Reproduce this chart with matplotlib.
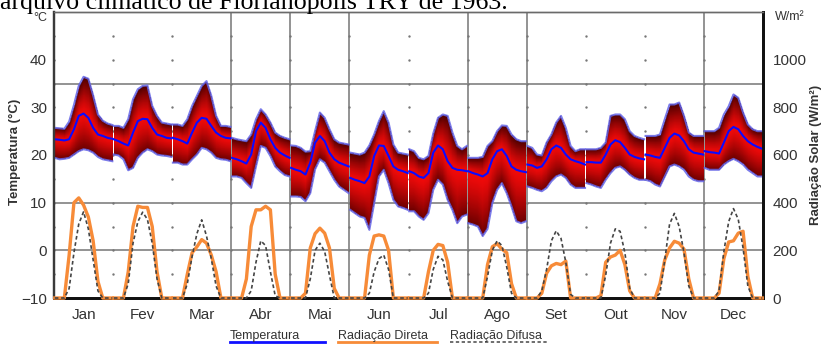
import numpy as np
import matplotlib
matplotlib.use("Agg")
import matplotlib.pyplot as plt
from matplotlib.lines import Line2D

plt.rcParams['font.family'] = ['Liberation Sans', 'DejaVu Sans']

months = ['Jan', 'Fev', 'Mar', 'Abr', 'Mai', 'Jun', 'Jul', 'Ago', 'Set', 'Out', 'Nov', 'Dec']
hours = [0, 2, 4, 6, 8, 10, 12, 14, 16, 18, 20, 22, 24]

t_max = [
    [25.7, 25.6, 25.5, 27.0, 30.5, 34.5, 36.4, 36.0, 32.5, 28.5, 27.2, 26.6, 26.3],
    [26.1, 26.1, 25.7, 27.5, 31.7, 33.8, 34.5, 34.6, 30.3, 28.2, 26.8, 26.6, 26.4],
    [26.4, 26.4, 26.1, 27.5, 30.3, 32.4, 34.5, 35.5, 32.4, 28.2, 26.1, 26.1, 25.9],
    [23.6, 23.3, 23.1, 22.9, 24.3, 27.5, 29.6, 28.5, 26.8, 24.7, 24.0, 23.6, 23.3],
    [22.0, 21.9, 21.5, 20.7, 20.8, 25.0, 28.9, 27.8, 25.4, 23.3, 22.6, 22.4, 22.2],
    [20.5, 20.3, 20.1, 20.5, 22.0, 24.3, 27.1, 29.2, 26.8, 22.2, 20.5, 20.3, 20.1],
    [21.2, 20.8, 19.4, 19.1, 19.8, 24.5, 27.8, 28.5, 28.2, 24.7, 21.9, 21.2, 21.9],
    [19.4, 19.4, 19.4, 19.6, 21.9, 22.9, 25.0, 26.2, 26.1, 24.3, 23.3, 22.9, 22.9],
    [21.9, 21.5, 20.1, 19.9, 22.6, 24.3, 26.8, 28.2, 25.7, 21.9, 20.8, 21.2, 21.2],
    [21.2, 21.2, 21.2, 21.5, 22.6, 28.2, 28.5, 28.5, 27.5, 25.0, 24.0, 23.6, 23.3],
    [24.0, 24.0, 24.0, 24.3, 27.5, 30.6, 30.6, 31.0, 28.2, 24.7, 24.0, 24.0, 24.0],
    [25.0, 25.0, 25.0, 25.7, 28.5, 30.2, 32.7, 32.0, 28.9, 26.4, 25.4, 25.0, 25.0],
]

t_min = [
    [19.4, 19.1, 19.2, 19.4, 20.1, 20.8, 21.2, 21.0, 20.5, 19.6, 19.1, 18.9, 18.7],
    [20.1, 19.9, 19.1, 16.8, 17.3, 19.4, 20.5, 21.2, 20.8, 20.1, 19.9, 19.8, 19.6],
    [18.4, 18.4, 18.0, 18.0, 19.1, 20.1, 21.5, 21.2, 20.5, 19.4, 19.1, 19.0, 18.7],
    [15.5, 15.5, 15.2, 14.1, 13.1, 17.6, 21.9, 21.5, 19.8, 17.6, 16.6, 15.8, 15.5],
    [11.3, 11.3, 11.2, 10.3, 12.0, 17.0, 19.1, 18.4, 16.6, 14.8, 13.4, 12.7, 12.0],
    [8.5, 7.8, 7.1, 6.8, 4.3, 9.9, 15.5, 16.9, 14.1, 10.6, 9.2, 8.9, 8.5],
    [8.2, 8.2, 7.1, 6.4, 7.8, 12.7, 14.8, 13.8, 10.6, 8.5, 5.7, 7.1, 7.5],
    [5.7, 5.4, 5.0, 3.0, 4.5, 9.9, 12.7, 14.1, 12.0, 9.2, 6.1, 5.7, 6.1],
    [13.4, 13.1, 12.7, 12.4, 13.1, 14.5, 15.5, 15.9, 15.2, 13.8, 13.1, 13.1, 13.1],
    [14.1, 13.8, 13.4, 13.1, 14.8, 16.2, 17.3, 17.6, 16.9, 15.9, 15.2, 14.8, 14.8],
    [14.8, 14.5, 13.8, 13.4, 15.5, 17.6, 18.0, 17.6, 16.9, 15.5, 14.8, 14.5, 14.5],
    [17.3, 16.9, 16.9, 16.9, 18.0, 18.7, 19.2, 18.7, 18.0, 16.9, 16.2, 15.5, 15.5],
]

t_mean = [
    [23.3, 23.2, 23.05, 23.3, 25.4, 28.2, 28.7, 27.8, 25.7, 24.3, 24.0, 23.6, 23.4],
    [23.3, 22.9, 22.4, 22.0, 24.7, 27.1, 27.6, 27.5, 25.7, 24.3, 24.0, 23.6, 23.5],
    [23.6, 23.3, 22.9, 22.4, 24.7, 26.8, 27.8, 27.6, 26.1, 24.7, 24.0, 23.6, 23.5],
    [19.4, 19.1, 18.7, 18.2, 20.1, 25.0, 26.8, 25.7, 23.3, 21.5, 20.5, 19.9, 19.4],
    [17.3, 16.9, 16.6, 15.9, 18.4, 22.6, 24.0, 22.9, 20.5, 19.1, 18.4, 18.0, 17.6],
    [15.2, 14.8, 14.5, 14.1, 15.5, 19.8, 22.0, 21.9, 19.8, 17.6, 16.9, 16.6, 16.2],
    [16.6, 16.2, 15.5, 15.2, 16.2, 20.5, 22.0, 21.2, 18.7, 17.3, 16.9, 16.8, 16.6],
    [16.6, 16.2, 15.9, 15.5, 16.2, 19.1, 20.8, 21.2, 19.8, 17.6, 16.9, 16.6, 16.4],
    [18.0, 17.8, 17.3, 17.6, 19.1, 21.2, 22.0, 21.5, 20.1, 19.1, 18.7, 18.4, 18.0],
    [18.5, 18.5, 18.4, 18.4, 20.1, 22.2, 23.1, 22.7, 21.5, 20.1, 19.6, 19.3, 19.1],
    [20.1, 19.9, 19.6, 19.4, 21.5, 23.6, 24.5, 24.1, 22.9, 21.2, 20.5, 20.3, 20.1],
    [20.8, 20.6, 20.5, 20.3, 22.6, 25.0, 25.9, 25.4, 24.0, 22.9, 22.2, 21.7, 21.3],
]

rad_direct = [
    [0, 0, 0, 180, 400, 420, 390, 340, 240, 70, 0, 0, 0],
    [0, 0, 0, 110, 300, 385, 380, 380, 300, 110, 0, 0, 0],
    [0, 0, 0, 100, 190, 215, 245, 230, 180, 110, 0, 0, 0],
    [0, 0, 0, 80, 300, 370, 370, 385, 370, 100, 0, 0, 0],
    [0, 0, 0, 20, 210, 270, 293, 272, 210, 40, 0, 0, 0],
    [0, 0, 0, 0, 180, 260, 265, 260, 200, 0, 0, 0, 0],
    [0, 0, 0, 0, 110, 200, 225, 220, 150, 0, 0, 0, 0],
    [0, 0, 0, 0, 140, 215, 228, 205, 190, 60, 0, 0, 0],
    [0, 0, 0, 20, 104, 135, 145, 140, 155, 0, 0, 0, 0],
    [0, 0, 0, 10, 150, 172, 180, 200, 140, 30, 0, 0, 0],
    [0, 0, 0, 60, 160, 210, 238, 230, 205, 80, 0, 0, 0],
    [0, 0, 0, 20, 165, 235, 240, 272, 280, 90, 0, 0, 0],
]

rad_diffuse = [
    [0, 0, 0, 40, 190, 310, 362, 290, 160, 30, 0, 0, 0],
    [0, 0, 0, 60, 230, 320, 360, 330, 230, 80, 0, 0, 0],
    [0, 0, 0, 60, 175, 270, 328, 260, 165, 50, 0, 0, 0],
    [0, 0, 0, 0, 30, 150, 240, 220, 110, 10, 0, 0, 0],
    [0, 0, 0, 0, 80, 200, 230, 195, 95, 0, 0, 0, 0],
    [0, 0, 0, 0, 20, 110, 165, 180, 120, 0, 0, 0, 0],
    [0, 0, 0, 0, 20, 120, 175, 160, 70, 0, 0, 0, 0],
    [0, 0, 0, 0, 90, 200, 240, 220, 130, 20, 0, 0, 0],
    [0, 0, 0, 30, 120, 240, 282, 250, 150, 15, 0, 0, 0],
    [0, 0, 0, 0, 95, 230, 290, 280, 190, 40, 0, 0, 0],
    [0, 0, 0, 20, 160, 310, 355, 300, 190, 50, 0, 0, 0],
    [0, 0, 0, 30, 195, 320, 375, 330, 210, 50, 0, 0, 0],
]

W, H = 823, 344
fig = plt.figure(figsize=(W / 100, H / 100), dpi=100)
ax = fig.add_axes([54 / W, (H - 298) / H, 709 / W, 286 / H])
ax.set_xlim(0, 288)
ax.set_ylim(-10, 50)
ax2 = ax.twinx()
ax2.set_ylim(0, 1200)

TXT = '#333333'

# grid: solid lines and dotted intersections
for yv in [0, 10, 35]:
    ax.axhline(yv, color='#8a8a8a', lw=1.3, zorder=0)
for mv in [3, 4, 5, 7, 8, 11]:
    ax.axvline(mv * 24, color='#8a8a8a', lw=1.3, zorder=0)
gx, gy = np.meshgrid(np.arange(13) * 24, np.arange(-5, 50, 5))
ax.scatter(gx.ravel(), gy.ravel(), s=3, color='#777777', zorder=0.5, linewidths=0, clip_on=False)

hours_a = np.array(hours, dtype=float)
yg = np.linspace(-10, 50, 901)
bright = np.array([0.95, 0.04, 0.04])
dark_top = np.array([0.30, 0.0, 0.0])
dark_bot = np.array([0.42, 0.0, 0.0])

for m in range(12):
    x0, x1 = m * 24 + 0.3, m * 24 + 23.7
    xs = x0 + hours_a / 24.0 * (x1 - x0)
    hf = np.linspace(0, 24, 300)
    mx = np.interp(hf, hours_a, t_max[m])
    mn = np.interp(hf, hours_a, t_min[m])
    me = np.interp(hf, hours_a, t_mean[m])
    Y = yg[:, None]
    up = (Y - me[None, :]) / np.maximum(mx - me, 0.1)[None, :]
    dn = (me[None, :] - Y) / np.maximum(me - mn, 0.1)[None, :]
    above = Y >= me[None, :]
    t = np.clip(np.where(above, up, dn), 0, 1) ** 1.3
    img = np.zeros((len(yg), len(hf), 4))
    for c in range(3):
        edge = np.where(above, dark_top[c], dark_bot[c])
        img[..., c] = bright[c] * (1 - t) + edge * t
    img[..., 3] = ((Y >= mn[None, :]) & (Y <= mx[None, :])).astype(float)
    ax.imshow(img, extent=[x0, x1, -10, 50], origin='lower', aspect='auto',
              interpolation='nearest', zorder=2)
    ax.plot(xs, t_max[m], color='#6464e6', lw=1.5, alpha=0.85, zorder=3)
    ax.plot(xs, t_min[m], color='#6464e6', lw=1.5, alpha=0.85, zorder=3)
    ax.plot(xs, t_mean[m], color='#0a0aff', lw=1.5, zorder=4)
    ax2.plot(xs, rad_direct[m], color='#f78b38', lw=2.4, zorder=5, clip_on=False,
             solid_joinstyle='round')
    ax2.plot(xs, rad_diffuse[m], color='#454545', lw=1.2, dashes=(2.2, 1.6), zorder=6,
             clip_on=False)

ax.set_xlim(0, 288)
ax.set_ylim(-10, 50)

ax.set_xticks(np.arange(12) * 24 + 12)
ax.set_xticklabels(months)
ax.set_yticks([-10, 0, 10, 20, 30, 40])
ax2.set_yticks([0, 200, 400, 600, 800, 1000])
ax.tick_params(axis='x', length=0, pad=7, labelsize=11, labelcolor=TXT)
ax.tick_params(axis='y', length=0, pad=5, labelsize=11, labelcolor=TXT)
ax2.tick_params(axis='y', length=0, pad=7, labelsize=11, labelcolor=TXT)

for a in (ax, ax2):
    a.spines['left'].set_color('#3a3a3a')
    a.spines['left'].set_linewidth(1.6)
    a.spines['bottom'].set_color('#111111')
    a.spines['bottom'].set_linewidth(2.0)
    a.spines['right'].set_color('#111111')
    a.spines['right'].set_linewidth(2.0)
    a.spines['top'].set_color('#6a6a6a')
    a.spines['top'].set_linewidth(1.0)

fig.text(15 / W, 1 - 152 / H, 'Temperatura (°C)', rotation=90, ha='center', va='center',
         fontsize=9.5, fontweight='bold', color=TXT)
fig.text(816 / W, 1 - 155 / H, 'Radiação Solar (W/m²)', rotation=90, ha='center', va='center',
         fontsize=9.5, fontweight='bold', color=TXT)
fig.text(40 / W, 1 - 18 / H, '°C', ha='center', va='center', fontsize=9, color=TXT)
fig.text(775 / W, 1 - 17 / H, 'W/m²', ha='left', va='center', fontsize=9, color=TXT)

# header text of the surrounding document (cut at the top)
title = fig.text(0, 1 - 9 / H, 'arquivo climático de Florianópolis TRY de 1963.',
                 fontfamily='Liberation Serif', fontsize=17, ha='left', va='baseline',
                 color='black')
fig.canvas.draw()
wpx = title.get_window_extent().width
title.set_fontsize(17 * 510 / wpx)

# legend drawn under the chart
ly = 1 - 336 / H
lline = 1 - 342 / H
fig.text(230 / W, ly, 'Temperatura', fontsize=9, color=TXT, va='center', ha='left')
fig.add_artist(Line2D([230 / W, 325 / W], [lline, lline], color='#1010ff', lw=2,
                      transform=fig.transFigure))
fig.text(338 / W, ly, 'Radiação Direta', fontsize=9, color=TXT, va='center', ha='left')
fig.add_artist(Line2D([338 / W, 437 / W], [lline, lline], color='#f78b38', lw=2,
                      transform=fig.transFigure))
fig.text(450 / W, ly, 'Radiação Difusa', fontsize=9, color=TXT, va='center', ha='left')
fig.add_artist(Line2D([450 / W, 547 / W], [lline, lline], color='#555555', lw=1.2,
                      dashes=(2, 1.5), transform=fig.transFigure))

fig.savefig('out.png', dpi=100)
